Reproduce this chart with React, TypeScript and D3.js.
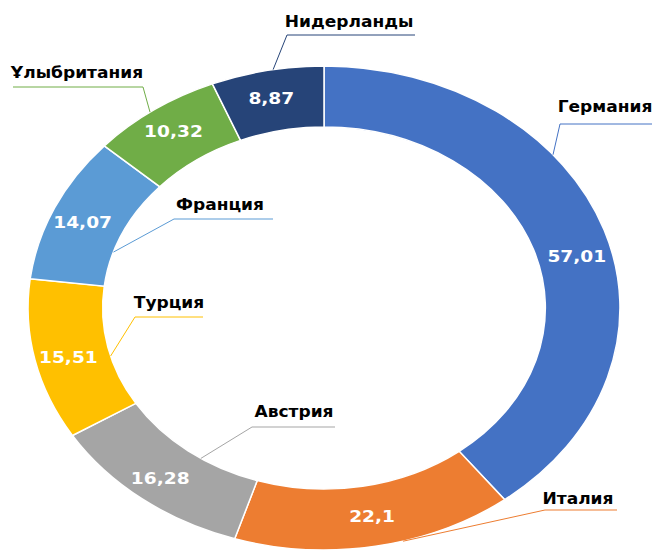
import React from "react";
import * as d3 from "d3";

const categories = ["Германия", "Италия", "Австрия", "Турция", "Франция", "Ұлыбритания", "Нидерланды"];
const values = [57.01, 22.1, 16.28, 15.51, 14.07, 10.32, 8.87];
const valueLabels = ["57,01", "22,1", "16,28", "15,51", "14,07", "10,32", "8,87"];
const colors = ["#4472C4", "#ED7D31", "#A5A5A5", "#FFC000", "#5B9BD5", "#70AD47", "#264478"];

// value label nudges (px) away from the slice centroid
const valueNudge = [[8, 17], [3, 0], [-5, 3], [-3, 4], [-6, 2], [-2, -3], [-3, -2]];

// label layout (leader start angle on ring in degrees, ring, elbow, line end, text centre/baseline)
const labelLayout = [
  { angle: 50.7, ring: "outer", elbowX: 560, lineY: 124, endX: 652, textX: 605, textY: 112 },
  { angle: 164.5, ring: "outer", elbowX: 545, lineY: 510, endX: 617, textX: 578, textY: 504 },
  { angle: 213.8, ring: "inner", elbowX: 252, lineY: 427, endX: 335, textX: 294, textY: 417 },
  { angle: 254.6, ring: "inner", elbowX: 135, lineY: 317, endX: 203, textX: 169, textY: 308 },
  { angle: 288, ring: "inner", elbowX: 174, lineY: 219, endX: 273, textX: 220, textY: 210 },
  { angle: 324, ring: "outer", elbowX: 143, lineY: 87, endX: 13, textX: 77, textY: 78 },
  { angle: 350.1, ring: "outer", elbowX: 287, lineY: 35, endX: 415, textX: 349, textY: 27 },
];

const W = 652;
const H = 550;
const cx = 324;
const cy = 308;
const outerR = 242;
const innerR = 181;
const sx = 1.223;

export default function App() {
  const pie = d3.pie<number>().sort(null).value((d) => d);
  const arcs = pie(values);
  const arc = d3.arc<d3.PieArcDatum<number>>().innerRadius(innerR).outerRadius(outerR);
  const midArc = d3.arc<d3.PieArcDatum<number>>().innerRadius((innerR + outerR) / 2).outerRadius((innerR + outerR) / 2);

  const ringPoint = (deg: number, r: number) => {
    const a = (deg * Math.PI) / 180;
    return [cx + sx * r * Math.sin(a), cy - r * Math.cos(a)];
  };

  const font = "'DejaVu Sans', sans-serif";

  return (
    <svg width={W} height={H} style={{ position: "absolute", left: 0, top: 0, background: "#fff" }}>
      <rect width={W} height={H} fill="#fff" />
      <g transform={`translate(${cx},${cy}) scale(${sx},1)`}>
        {arcs.map((a, i) => (
          <path
            key={i}
            d={arc(a) || ""}
            fill={colors[i]}
            stroke="#fff"
            strokeWidth={1.5}
            vectorEffect="non-scaling-stroke"
          />
        ))}
      </g>
      {arcs.map((a, i) => {
        const [mx, my] = midArc.centroid(a);
        return (
          <text
            key={"v" + i}
            transform={`translate(${cx + mx * sx + valueNudge[i][0]},${cy + my + valueNudge[i][1]}) scale(1.2,1)`}
            textAnchor="middle"
            dy="0.36em"
            fill="#fff"
            fontFamily={font}
            fontWeight="bold"
            fontSize={15.5}
          >
            {valueLabels[i]}
          </text>
        );
      })}
      {labelLayout.map((l, i) => {
        const [px, py] = ringPoint(l.angle, l.ring === "outer" ? outerR : innerR);
        return (
          <g key={"l" + i}>
            <polyline
              points={`${px},${py} ${l.elbowX},${l.lineY} ${l.endX},${l.lineY}`}
              fill="none"
              stroke={colors[i]}
              strokeWidth={1}
            />
            <text
              transform={`translate(${l.textX},${l.textY}) scale(1.1,1)`}
              textAnchor="middle"
              fill="#000"
              fontFamily={font}
              fontWeight="bold"
              fontSize={15.5}
            >
              {categories[i]}
            </text>
          </g>
        );
      })}
    </svg>
  );
}
